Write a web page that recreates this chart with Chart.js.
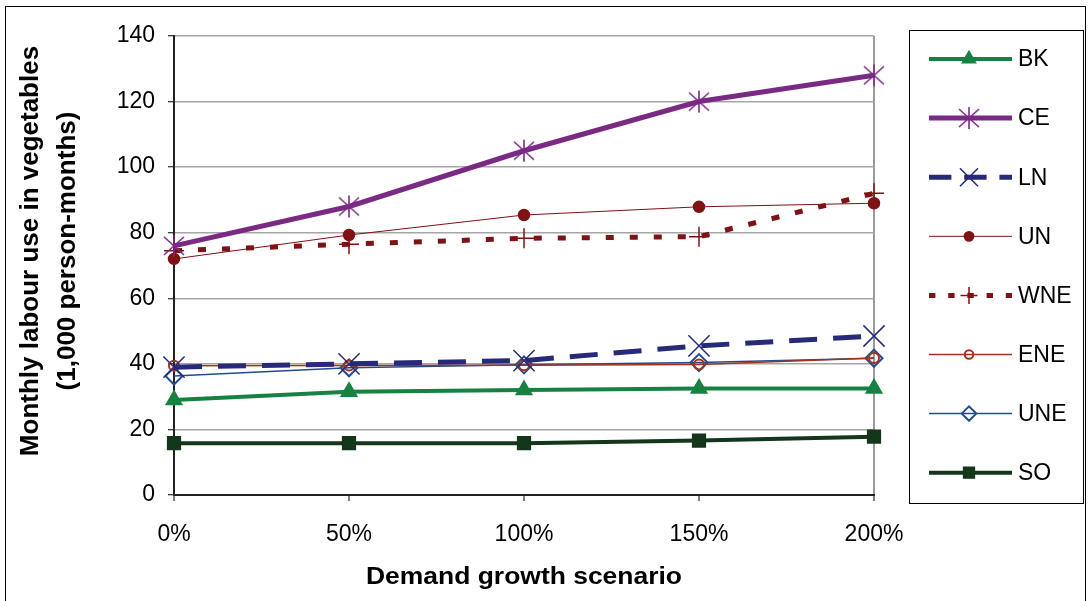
<!DOCTYPE html>
<html>
<head>
<meta charset="utf-8">
<script src="https://cdn.jsdelivr.net/npm/chart.js@4/dist/chart.umd.min.js"></script>
<style>
  html, body { margin: 0; padding: 0; background: #fff; }
  #wrap { width: 1089px; height: 601px; position: relative; }
</style>
</head>
<body>
<div id="wrap"><canvas id="chart" width="1089" height="601"></canvas></div>
<script>
// scenario labels on the x axis
const scenarios = ['0%', '50%', '100%', '150%', '200%'];

// monthly labour use (1,000 person-months)
const bk  = [29, 31.5, 32, 32.5, 32.5];
const ce  = [76, 88, 105, 120, 128];
const ln  = [39, 40, 41, 45.5, 48.5];
const un  = [72, 79.3, 85.4, 87.9, 89];
const wne = [74.5, 76.5, 78.3, 78.8, 92];
const ene = [39.4, 39.5, 39.6, 39.8, 41.8];
const une = [36.3, 38.8, 39.7, 40.4, 41.7];
const so  = [15.8, 15.8, 15.8, 16.6, 17.8];

const yTitle = ['Monthly labour use in vegetables', '(1,000 person-months)'];
const xTitle = 'Demand growth scenario';

const FONT = "'Liberation Sans', Arial, sans-serif";

// asterisk marker (X with a vertical bar) like the Excel one
function asterisk(color) {
    const c = document.createElement('canvas');
    c.width = 24; c.height = 24;
    const g = c.getContext('2d');
    g.strokeStyle = color;
    g.lineWidth = 1.6;
    g.beginPath();
    g.moveTo(2, 3); g.lineTo(22, 21);
    g.moveTo(22, 3); g.lineTo(2, 21);
    g.moveTo(12, 1); g.lineTo(12, 23);
    g.stroke();
    return c;
}

function series(label, data, color, width, style, radius, fill, dash, pbw) {
    return {
        label: label,
        data: data,
        borderColor: color,
        backgroundColor: color,
        borderWidth: width,
        borderDash: dash || [],
        pointStyle: style,
        pointRadius: radius,
        pointBackgroundColor: fill ? color : 'rgba(0,0,0,0)',
        pointBorderColor: color,
        pointBorderWidth: pbw || 1.5,
        tension: 0,
        fill: false
    };
}

const datasets = [
    series('BK', bk, '#178142', 4, 'triangle', 9, true),
    series('CE', ce, '#7b2a84', 5, asterisk('#7b2a84'), 12, true),
    series('LN', ln, '#27297a', 5, 'crossRot', 15, false, [28, 16]),
    series('UN', un, '#7e1214', 1, 'circle', 5.5, true),
    series('WNE', wne, '#7e1214', 5, 'cross', 10, false, [8, 16]),
    series('ENE', ene, '#a4321f', 1.5, 'circle', 5, false, null, 2),
    series('UNE', une, '#234d8a', 1.5, 'rectRot', 8.5, false, null, 2),
    series('SO', so, '#14361a', 4, 'rect', 9, true)
];
datasets.forEach((d, i) => { d.order = i; });

const titlesPlugin = {
    id: 'titles',
    afterDraw(chart) {
        const ctx = chart.ctx;
        ctx.save();
        // outer frame
        ctx.strokeStyle = '#000';
        ctx.lineWidth = 1;
        ctx.strokeRect(5.5, 6.5, 1080, 700);

        ctx.fillStyle = '#000';
        ctx.textAlign = 'center';
        ctx.textBaseline = 'middle';

        ctx.save();
        ctx.font = 'bold 23px ' + FONT;
        ctx.translate(524, 578);
        ctx.scale(1.15, 1);
        ctx.fillText(xTitle, 0, 0);
        ctx.restore();

        ctx.save();
        ctx.font = 'bold 26px ' + FONT;
        ctx.translate(0, 251);
        ctx.rotate(-Math.PI / 2);
        ctx.fillText(yTitle[0], 0, 31);
        ctx.fillText(yTitle[1], 0, 68);
        ctx.restore();
        ctx.restore();
    }
};

const legendPlugin = {
    id: 'boxLegend',
    afterDraw(chart) {
        const ctx = chart.ctx;
        ctx.save();
        ctx.strokeStyle = '#000';
        ctx.lineWidth = 1;
        ctx.strokeRect(909.5, 30.5, 174, 473);
        const x0 = 929, x1 = 1012, xm = 969;
        chart.data.datasets.forEach((ds, i) => {
            const y = 59 + i * 59.1;
            ctx.save();
            ctx.strokeStyle = ds.borderColor;
            ctx.lineWidth = ds.borderWidth;
            ctx.setLineDash(ds.borderDash.length ? ds.borderDash.map(v => v * 0.8) : []);
            ctx.beginPath();
            ctx.moveTo(x0, y);
            ctx.lineTo(x1, y);
            ctx.stroke();
            ctx.setLineDash([]);
            ctx.fillStyle = ds.pointBackgroundColor;
            ctx.strokeStyle = ds.pointBorderColor;
            ctx.lineWidth = ds.pointBorderWidth;
            Chart.helpers.drawPoint(ctx, {
                pointStyle: ds.pointStyle,
                rotation: 0,
                borderWidth: ds.pointBorderWidth,
                radius: ds.pointRadius * 0.85
            }, xm, y);
            ctx.restore();
            ctx.fillStyle = '#000';
            ctx.font = '23px ' + FONT;
            ctx.textAlign = 'left';
            ctx.textBaseline = 'middle';
            ctx.fillText(ds.label, 1018, y + 1);
        });
        ctx.restore();
    }
};

new Chart(document.getElementById('chart').getContext('2d'), {
    type: 'line',
    data: { labels: scenarios, datasets: datasets },
    plugins: [titlesPlugin, legendPlugin],
    options: {
        responsive: false,
        animation: false,
        events: [],
        layout: { padding: { left: 90, top: 36, right: 1089 - 874, bottom: 30 } },
        plugins: { legend: { display: false }, tooltip: { enabled: false } },
        scales: {
            x: {
                offset: false,
                afterFit: s => { s.height = 601 - 30 - 495; },
                grid: {
                    drawOnChartArea: true,
                    color: c => c.index === scenarios.length - 1 ? '#9a9a9a' : 'rgba(0,0,0,0)',
                    lineWidth: 2,
                    tickColor: '#000',
                    tickLength: 6,
                    tickWidth: 1
                },
                border: { color: '#222', width: 2 },
                ticks: { color: '#000', font: { family: FONT, size: 23 }, padding: 20, maxRotation: 0 }
            },
            y: {
                min: 0,
                max: 140,
                afterFit: s => { s.width = 174 - 90; },
                grid: {
                    color: '#a6a6a6',
                    lineWidth: 1.5,
                    tickColor: '#000',
                    tickLength: 6,
                    tickWidth: 1
                },
                border: { color: '#222', width: 2 },
                ticks: { stepSize: 20, color: '#000', font: { family: FONT, size: 23 }, padding: 13 }
            }
        }
    }
});
</script>
</body>
</html>
